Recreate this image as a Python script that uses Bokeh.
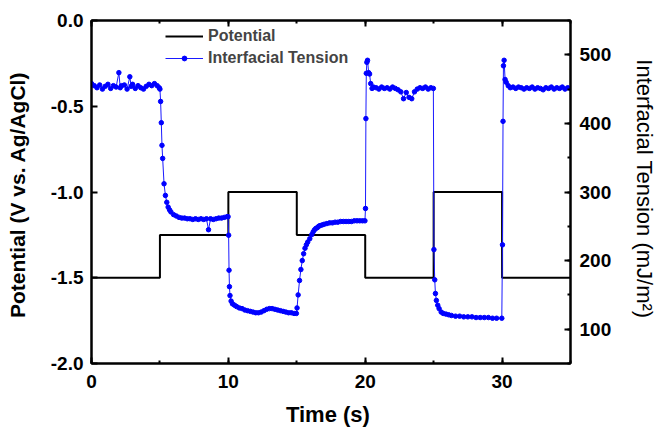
from bokeh.plotting import figure
from bokeh.models import (Range1d, LinearAxis, SingleIntervalTicker, Legend, LegendItem,
                          PrintfTickFormatter)
from bokeh.embed import file_html
from bokeh.resources import INLINE

# ---------------- data ----------------
pot_time = [0, 5, 10, 15, 20, 25, 30, 35]
pot_value = [-1.5, -1.25, -1.0, -1.25, -1.5, -1.0, -1.5, -1.5]

t_seg1 = [0.0, 0.2, 0.4, 0.6, 0.8, 1.0, 1.2, 1.4, 1.6, 1.8, 2.0, 2.1, 2.2, 2.4, 2.6, 2.8, 2.9,
          3.0, 3.2, 3.4, 3.6, 3.8, 4.0, 4.2, 4.4, 4.6, 4.8, 4.95]
y_seg1 = [458, 455, 452, 456, 450, 454, 457, 451, 455, 453, 474, 452, 455, 456, 450, 468, 454,
          457, 451, 455, 452, 450, 454, 457, 455, 458, 455, 452]

t_seg2 = [5.0, 5.05, 5.1, 5.15, 5.2, 5.3, 5.4, 5.5, 5.6, 5.7, 5.8, 6.0, 6.2, 6.4, 6.6, 6.8,
          7.0, 7.2, 7.4, 7.6, 7.8, 8.0, 8.2, 8.4, 8.55, 8.7, 8.9, 9.1, 9.3, 9.5, 9.7, 9.9, 9.98]
y_seg2 = [450, 432, 401, 368, 349, 312, 295, 285, 278, 274, 271, 267, 265, 263, 262, 262,
          261, 261, 260, 261, 260, 261, 260, 261, 245, 261, 260, 261, 262, 262, 263, 264, 264]

t_seg3 = [10.02, 10.05, 10.08, 10.12, 10.2, 10.3, 10.45, 10.6, 10.8, 11.0, 11.2, 11.4, 11.6,
          11.8, 12.0, 12.2, 12.4, 12.6, 12.8, 13.0, 13.2, 13.4, 13.6, 13.8, 14.0, 14.2, 14.4,
          14.6, 14.8, 14.97]
y_seg3 = [237, 186, 162, 149, 141, 137, 135, 133, 131, 130, 128, 127, 126,
          125, 124, 124, 125, 127, 129, 130, 130, 129, 128, 127, 126, 125, 124,
          124, 123, 123]

t_seg4 = [15.02, 15.1, 15.2, 15.3, 15.4, 15.5, 15.6, 15.7, 15.8, 15.95, 16.1, 16.2, 16.3, 16.4,
          16.5, 16.6, 16.7, 16.85, 17.0, 17.2, 17.4, 17.6, 17.8, 18.0, 18.2, 18.4, 18.6, 18.8,
          19.0, 19.2, 19.4, 19.6, 19.8, 19.98]
y_seg4 = [131, 150, 171, 187, 200, 210, 218, 223, 227, 232, 238, 242, 245, 247,
          248, 250, 251, 252, 253, 254, 255, 255, 256, 256, 257, 257, 257, 257,
          257, 258, 258, 258, 258, 258]

t_seg5 = [20.02, 20.05, 20.08, 20.12, 20.17, 20.25, 20.32, 20.4, 20.5, 20.6, 20.8, 21.0, 21.2,
          21.4, 21.6, 21.8, 22.0, 22.2, 22.4, 22.6, 22.8, 23.0, 23.2, 23.4, 23.6, 23.8, 24.0,
          24.2, 24.4, 24.6, 24.8, 24.98]
y_seg5 = [276, 407, 473, 489, 492, 474, 472, 458, 451, 453, 452, 450, 453,
          451, 452, 450, 453, 451, 449, 446, 436, 445, 438, 436, 446, 450, 452,
          451, 453, 450, 452, 451]

t_seg6 = [25.02, 25.08, 25.13, 25.2, 25.3, 25.4, 25.55, 25.7, 25.9, 26.1, 26.3, 26.6, 26.9,
          27.2, 27.5, 27.8, 28.1, 28.4, 28.7, 29.0, 29.3, 29.6, 29.98]
y_seg6 = [216, 172, 152, 142, 135, 130, 125, 123, 122, 121, 120, 119, 119,
          118, 118, 118, 117, 117, 117, 117, 116, 116, 116]

t_seg7 = [30.03, 30.07, 30.1, 30.15, 30.22, 30.3, 30.45, 30.6, 30.8, 31.0, 31.2, 31.4, 31.6,
          31.8, 32.0, 32.2, 32.4, 32.6, 32.8, 33.0, 33.2, 33.4, 33.6, 33.8, 34.0, 34.2, 34.4,
          34.6, 34.8, 35.0]
y_seg7 = [223, 403, 484, 492, 464, 460, 455, 452, 453, 451, 453, 452, 450,
          452, 451, 453, 450, 452, 451, 449, 452, 451, 453, 450, 452, 451, 453,
          450, 452, 451]

ten_time = t_seg1 + t_seg2 + t_seg3 + t_seg4 + t_seg5 + t_seg6 + t_seg7
ten_value = y_seg1 + y_seg2 + y_seg3 + y_seg4 + y_seg5 + y_seg6 + y_seg7
assert len(ten_time) == len(ten_value)

x_ticks_interval = 10
left_ticks_interval = 0.5
right_ticks_interval = 100

FONT = "Liberation Sans"

# ---------------- figure ----------------
p = figure(width=660, height=429, output_backend="svg", toolbar_location=None,
           x_range=Range1d(0, 35), y_range=Range1d(-2, 0),
           min_border_left=91, min_border_right=87, min_border_top=20, min_border_bottom=66)
p.extra_y_ranges = {"ten": Range1d(50, 550)}
p.xgrid.visible = False
p.ygrid.visible = False
p.outline_line_color = "black"
p.outline_line_width = 2
p.background_fill_color = "white"
p.border_fill_color = "white"


def style_axis(ax, label_size="19px"):
    ax.axis_line_width = 2
    ax.axis_line_color = "black"
    ax.major_tick_in = 6
    ax.major_tick_out = 0
    ax.minor_tick_in = 3
    ax.minor_tick_out = 0
    ax.major_tick_line_width = 2
    ax.minor_tick_line_width = 2
    ax.major_label_text_font = FONT
    ax.major_label_text_font_style = "bold"
    ax.major_label_text_font_size = label_size
    ax.major_label_text_color = "black"
    ax.axis_label_text_font = FONT
    ax.axis_label_text_font_size = "21px"
    ax.axis_label_text_color = "black"


# bottom axis
xax = p.xaxis[0]
xax.ticker = SingleIntervalTicker(interval=x_ticks_interval, num_minor_ticks=2)
xax.axis_label = "Time  (s)"
style_axis(xax)
xax.axis_label_text_font_size = "22px"
xax.axis_label_text_font_style = "bold"
xax.major_label_standoff = 11
xax.axis_label_standoff = 11

# left axis
yax = p.yaxis[0]
yax.ticker = SingleIntervalTicker(interval=left_ticks_interval, num_minor_ticks=0)
yax.formatter = PrintfTickFormatter(format="%.1f")
yax.axis_label = "Potential  (V vs. Ag/AgCl)"
style_axis(yax)
yax.axis_label_text_font_style = "bold"
yax.major_label_standoff = 8
yax.axis_label_standoff = 19

# top axis (ticks only, labels not drawn)
top = LinearAxis(ticker=SingleIntervalTicker(interval=x_ticks_interval, num_minor_ticks=2))
style_axis(top, label_size="1px")
top.major_label_text_color = None
top.major_label_standoff = 0
p.add_layout(top, "above")

# right axis
rax = LinearAxis(y_range_name="ten",
                 ticker=SingleIntervalTicker(interval=right_ticks_interval, num_minor_ticks=2),
                 axis_label="Interfacial Tension  (mJ/m²)")
style_axis(rax)
rax.axis_label_text_font_size = "22px"
rax.axis_label_text_font_style = "normal"
rax.major_label_standoff = 9
rax.axis_label_standoff = 18
p.add_layout(rax, "right")

# ---------------- glyphs ----------------
pot = p.step(pot_time, pot_value, mode="after", line_color="black", line_width=2)
ten_line = p.line(ten_time, ten_value, y_range_name="ten", line_color="#1a1aff", line_width=1)
ten_dots = p.scatter(ten_time, ten_value, y_range_name="ten", size=4.5,
                     fill_color="#0000ff", line_color="#0000ff")

legend = Legend(items=[LegendItem(label="Potential", renderers=[pot]),
                       LegendItem(label="Interfacial Tension", renderers=[ten_line, ten_dots])],
                location=(74, 295))
legend.background_fill_alpha = 0
legend.border_line_alpha = 0
legend.label_text_font = FONT
legend.label_text_font_style = "bold"
legend.label_text_font_size = "16px"
legend.glyph_width = 38
legend.glyph_height = 12
legend.label_height = 20
legend.label_standoff = 5
legend.spacing = 2
legend.padding = 0
legend.margin = 0
p.add_layout(legend)

open("out.html", "w").write(file_html(p, INLINE))
